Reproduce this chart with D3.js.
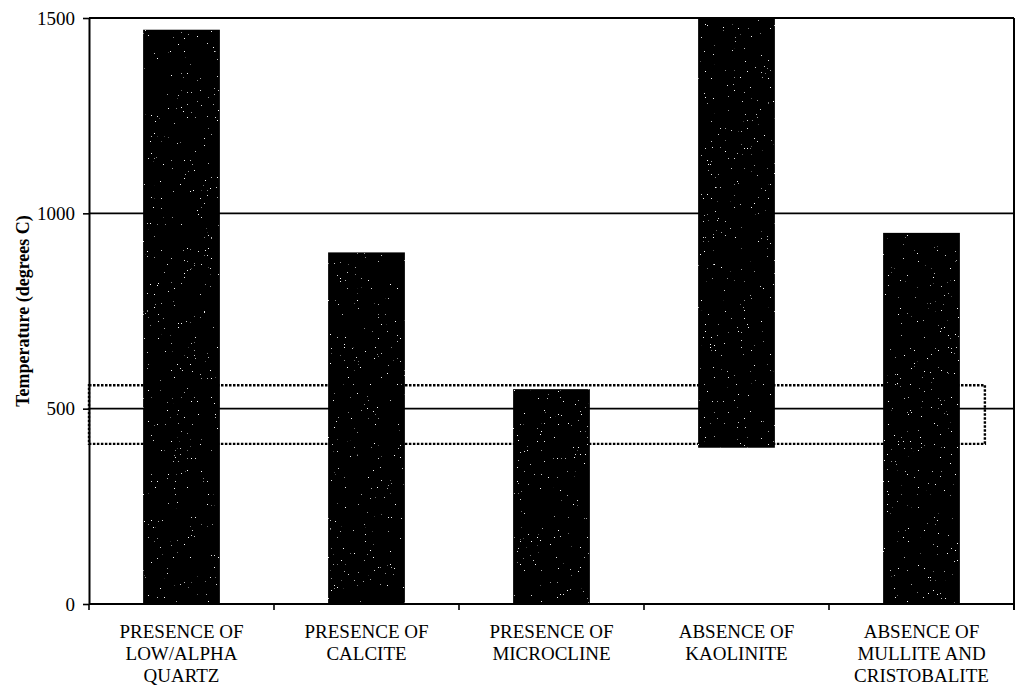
<!DOCTYPE html>
<html>
<head>
<meta charset="utf-8">
<script src="https://cdn.jsdelivr.net/npm/d3@7"></script>
<style>
  body { margin: 0; background: #fff; }
  svg { display: block; font-family: "Liberation Serif", "Times New Roman", serif; }
</style>
</head>
<body>
<div id="chart"></div>
<script>
// categories (label lines) and bar extents in degrees C
const categories = ["quartz", "calcite", "microcline", "kaolinite", "mullite"];
const labels = [
  ["PRESENCE OF", "LOW/ALPHA", "QUARTZ"],
  ["PRESENCE OF", "CALCITE"],
  ["PRESENCE OF", "MICROCLINE"],
  ["ABSENCE OF", "KAOLINITE"],
  ["ABSENCE OF", "MULLITE AND", "CRISTOBALITE"]
];
const barLow = [0, 0, 0, 400, 0];
const barHigh = [1470, 900, 550, 1500, 950];
const yTicks = [0, 500, 1000, 1500];
const gridValues = [500, 1000];
const windowRange = [410, 560]; // dotted box

const width = 1021;
const height = 690;
const margin = { top: 18, right: 7, left: 89, bottom: 86 };

const svg = d3.select("#chart")
  .append("svg")
  .attr("width", width)
  .attr("height", height)
  .attr("viewBox", [0, 0, width, height]);

// speckled black fill
const defs = svg.append("defs");
const filter = defs.append("filter")
  .attr("id", "speckle")
  .attr("x", 0).attr("y", 0).attr("width", 1).attr("height", 1);
filter.append("feTurbulence")
  .attr("type", "fractalNoise")
  .attr("baseFrequency", 0.7)
  .attr("numOctaves", 2)
  .attr("seed", 7)
  .attr("result", "noise");
filter.append("feColorMatrix")
  .attr("in", "noise")
  .attr("type", "matrix")
  .attr("values", "0 0 0 0 1  0 0 0 0 1  0 0 0 0 1  20 0 0 0 -15.2")
  .attr("result", "dots");
filter.append("feComposite")
  .attr("in", "dots")
  .attr("in2", "SourceGraphic")
  .attr("operator", "in")
  .attr("result", "dotsIn");
const merge = filter.append("feMerge");
merge.append("feMergeNode").attr("in", "SourceGraphic");
merge.append("feMergeNode").attr("in", "dotsIn");

const x = d3.scaleBand()
  .domain(categories)
  .range([margin.left, width - margin.right]);

const y = d3.scaleLinear()
  .domain([0, 1500])
  .range([height - margin.bottom, margin.top]);

const barW = x.bandwidth() * 0.415;
const barX = (c) => x(c) + (x.bandwidth() - barW) / 2;

// gridlines
svg.append("g")
  .selectAll("line")
  .data(gridValues)
  .join("line")
  .attr("x1", margin.left)
  .attr("x2", width - margin.right)
  .attr("y1", (d) => y(d))
  .attr("y2", (d) => y(d))
  .attr("stroke", "#000")
  .attr("stroke-width", 1.6);

// dotted box
const lastCat = categories[categories.length - 1];
svg.append("rect")
  .attr("x", margin.left)
  .attr("y", y(windowRange[1]))
  .attr("width", barX(lastCat) + barW + 25 - margin.left)
  .attr("height", y(windowRange[0]) - y(windowRange[1]))
  .attr("fill", "none")
  .attr("stroke", "#000")
  .attr("stroke-width", 2.4)
  .attr("stroke-dasharray", "2.5,1.5");

// bars
svg.append("g")
  .selectAll("rect")
  .data(categories)
  .join("rect")
  .attr("x", (d) => barX(d))
  .attr("width", barW)
  .attr("y", (d, i) => y(barHigh[i]))
  .attr("height", (d, i) => y(barLow[i]) - y(barHigh[i]))
  .attr("fill", "#000")
  .attr("filter", "url(#speckle)");

// frame: top and right
svg.append("line")
  .attr("x1", margin.left).attr("x2", width - margin.right)
  .attr("y1", y(1500)).attr("y2", y(1500))
  .attr("stroke", "#000").attr("stroke-width", 2);
svg.append("line")
  .attr("x1", width - margin.right).attr("x2", width - margin.right)
  .attr("y1", y(1500)).attr("y2", y(0) + 6)
  .attr("stroke", "#000").attr("stroke-width", 2);

// y axis
const yAxis = svg.append("g")
  .attr("transform", `translate(${margin.left},0)`)
  .call(d3.axisLeft(y).tickValues(yTicks).tickFormat(d3.format("d"))
    .tickSize(6).tickSizeOuter(0).tickPadding(8))
  .attr("font-size", 19)
  .attr("font-family", "Liberation Serif, serif");
yAxis.select(".domain").attr("stroke-width", 2);
yAxis.selectAll(".tick line").attr("stroke-width", 1.6);
yAxis.selectAll(".tick text").attr("fill", "#000");

// x axis line and boundary ticks
svg.append("line")
  .attr("x1", margin.left).attr("x2", width - margin.right)
  .attr("y1", y(0)).attr("y2", y(0))
  .attr("stroke", "#000").attr("stroke-width", 2);
svg.append("g")
  .selectAll("line")
  .data(categories)
  .join("line")
  .attr("x1", (d) => x(d))
  .attr("x2", (d) => x(d))
  .attr("y1", y(0))
  .attr("y2", y(0) + 6)
  .attr("stroke", "#000")
  .attr("stroke-width", 1.6);

// category labels
const lab = svg.append("g")
  .selectAll("text")
  .data(categories)
  .join("text")
  .attr("text-anchor", "middle")
  .attr("font-size", 19)
  .attr("fill", "#000");
lab.selectAll("tspan")
  .data((d, i) => labels[i].map((t) => ({ t, c: d })))
  .join("tspan")
  .attr("x", (d) => x(d.c) + x.bandwidth() / 2)
  .attr("y", (d, j) => y(0) + 34 + j * 22)
  .text((d) => d.t);

// y axis title
svg.append("text")
  .attr("transform", `translate(29,${(y(0) + y(1500)) / 2}) rotate(-90)`)
  .attr("text-anchor", "middle")
  .attr("font-size", 18)
  .attr("font-weight", "bold")
  .attr("fill", "#000")
  .text("Temperature (degrees C)");
</script>
</body>
</html>
